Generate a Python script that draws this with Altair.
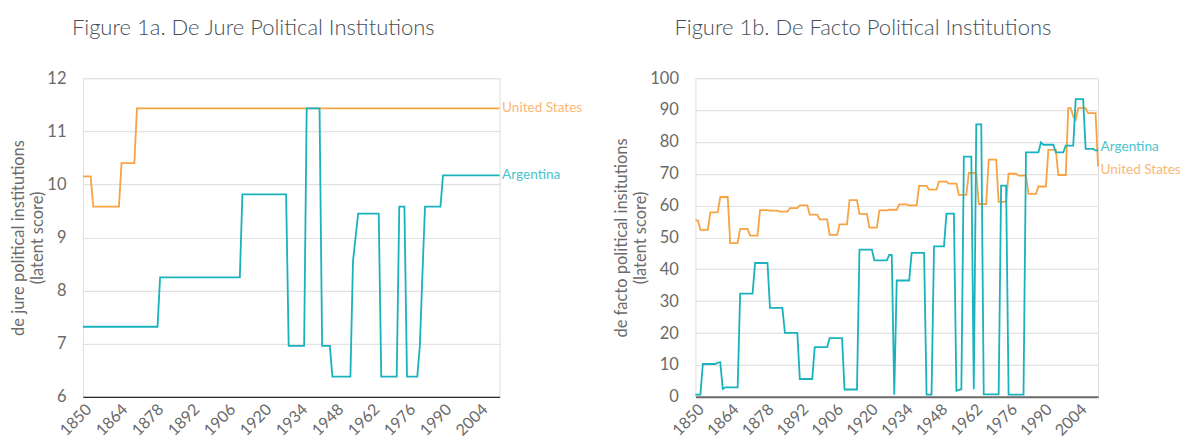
import altair as alt
import pandas as pd

years = list(range(1850, 2013))

# Figure 1a: de jure (latent score), one value per year 1850-2012
us_dejure = [
    10.15, 10.15, 10.15, 10.15, 9.58, 9.58, 9.58, 9.58, 9.58, 9.58,
    9.58, 9.58, 9.58, 9.58, 9.58, 10.4, 10.4, 10.4, 10.4, 10.4,
    10.4, 11.43, 11.43, 11.43, 11.43, 11.43, 11.43, 11.43, 11.43, 11.43,
    11.43, 11.43, 11.43, 11.43, 11.43, 11.43, 11.43, 11.43, 11.43, 11.43,
    11.43, 11.43, 11.43, 11.43, 11.43, 11.43, 11.43, 11.43, 11.43, 11.43,
    11.43, 11.43, 11.43, 11.43, 11.43, 11.43, 11.43, 11.43, 11.43, 11.43,
    11.43, 11.43, 11.43, 11.43, 11.43, 11.43, 11.43, 11.43, 11.43, 11.43,
    11.43, 11.43, 11.43, 11.43, 11.43, 11.43, 11.43, 11.43, 11.43, 11.43,
    11.43, 11.43, 11.43, 11.43, 11.43, 11.43, 11.43, 11.43, 11.43, 11.43,
    11.43, 11.43, 11.43, 11.43, 11.43, 11.43, 11.43, 11.43, 11.43, 11.43,
    11.43, 11.43, 11.43, 11.43, 11.43, 11.43, 11.43, 11.43, 11.43, 11.43,
    11.43, 11.43, 11.43, 11.43, 11.43, 11.43, 11.43, 11.43, 11.43, 11.43,
    11.43, 11.43, 11.43, 11.43, 11.43, 11.43, 11.43, 11.43, 11.43, 11.43,
    11.43, 11.43, 11.43, 11.43, 11.43, 11.43, 11.43, 11.43, 11.43, 11.43,
    11.43, 11.43, 11.43, 11.43, 11.43, 11.43, 11.43, 11.43, 11.43, 11.43,
    11.43, 11.43, 11.43, 11.43, 11.43, 11.43, 11.43, 11.43, 11.43, 11.43,
    11.43, 11.43, 11.43,
]
arg_dejure = [
    7.32, 7.32, 7.32, 7.32, 7.32, 7.32, 7.32, 7.32, 7.32, 7.32,
    7.32, 7.32, 7.32, 7.32, 7.32, 7.32, 7.32, 7.32, 7.32, 7.32,
    7.32, 7.32, 7.32, 7.32, 7.32, 7.32, 7.32, 7.32, 7.32, 7.32,
    8.25, 8.25, 8.25, 8.25, 8.25, 8.25, 8.25, 8.25, 8.25, 8.25,
    8.25, 8.25, 8.25, 8.25, 8.25, 8.25, 8.25, 8.25, 8.25, 8.25,
    8.25, 8.25, 8.25, 8.25, 8.25, 8.25, 8.25, 8.25, 8.25, 8.25,
    8.25, 8.25, 9.81, 9.81, 9.81, 9.81, 9.81, 9.81, 9.81, 9.81,
    9.81, 9.81, 9.81, 9.81, 9.81, 9.81, 9.81, 9.81, 9.81, 9.81,
    6.96, 6.96, 6.96, 6.96, 6.96, 6.96, 6.96, 11.43, 11.43, 11.43,
    11.43, 11.43, 11.43, 6.96, 6.96, 6.96, 6.96, 6.38, 6.38, 6.38,
    6.38, 6.38, 6.38, 6.38, 6.38, 8.55, 9.0, 9.45, 9.45, 9.45,
    9.45, 9.45, 9.45, 9.45, 9.45, 9.45, 6.38, 6.38, 6.38, 6.38,
    6.38, 6.38, 6.38, 9.58, 9.58, 9.58, 6.38, 6.38, 6.38, 6.38,
    6.38, 6.96, 8.3, 9.58, 9.58, 9.58, 9.58, 9.58, 9.58, 9.58,
    10.17, 10.17, 10.17, 10.17, 10.17, 10.17, 10.17, 10.17, 10.17, 10.17,
    10.17, 10.17, 10.17, 10.17, 10.17, 10.17, 10.17, 10.17, 10.17, 10.17,
    10.17, 10.17, 10.17,
]

# Figure 1b: de facto (latent score), one value per year 1850-2012
us_defacto = [
    55.4, 55.4, 52.4, 52.4, 52.4, 52.4, 57.9, 57.9, 57.9, 57.9,
    62.7, 62.7, 62.7, 62.7, 48.2, 48.2, 48.2, 48.2, 52.7, 52.7,
    52.7, 52.7, 50.6, 50.6, 50.6, 50.6, 58.6, 58.6, 58.6, 58.6,
    58.4, 58.4, 58.4, 58.4, 58.1, 58.1, 58.1, 58.1, 59.2, 59.2,
    59.2, 59.2, 60.1, 60.1, 60.1, 60.1, 57.2, 57.2, 57.2, 57.2,
    55.7, 55.7, 55.7, 55.7, 50.8, 50.8, 50.8, 50.8, 54.1, 54.1,
    54.1, 54.1, 61.7, 61.7, 61.7, 61.7, 57.4, 57.4, 57.4, 57.4,
    53.1, 53.1, 53.1, 53.1, 58.5, 58.5, 58.5, 58.5, 58.7, 58.7,
    58.7, 58.7, 60.4, 60.4, 60.4, 60.4, 60.1, 60.1, 60.1, 60.1,
    66.2, 66.2, 66.2, 66.2, 65.0, 65.0, 65.0, 65.0, 67.5, 67.5,
    67.5, 67.5, 66.9, 66.9, 66.9, 66.9, 63.4, 63.4, 63.4, 63.4,
    70.3, 70.3, 70.3, 70.3, 60.5, 60.5, 60.5, 60.5, 74.4, 74.4,
    74.4, 74.4, 61.2, 61.2, 61.2, 61.2, 70.0, 70.0, 70.0, 70.0,
    69.4, 69.4, 69.4, 69.4, 63.7, 63.7, 63.7, 63.7, 66.0, 66.0,
    66.0, 66.0, 77.5, 77.5, 77.5, 77.5, 69.6, 69.6, 69.6, 69.6,
    90.6, 90.6, 88.0, 86.9, 90.6, 90.6, 90.6, 90.6, 89.0, 89.0,
    89.0, 89.0, 72.3,
]
arg_defacto = [
    0.7, 0.7, 0.7, 10.3, 10.3, 10.3, 10.3, 10.3, 10.3, 10.7,
    10.9, 2.5, 3.0, 3.0, 3.0, 3.0, 3.0, 3.0, 32.4, 32.4,
    32.4, 32.4, 32.4, 32.4, 42.0, 42.0, 42.0, 42.0, 42.0, 42.0,
    27.9, 27.9, 27.9, 27.9, 27.9, 27.9, 20.1, 20.1, 20.1, 20.1,
    20.1, 20.1, 5.6, 5.6, 5.6, 5.6, 5.6, 5.6, 15.6, 15.6,
    15.6, 15.6, 15.6, 15.6, 18.4, 18.4, 18.4, 18.4, 18.4, 18.4,
    2.3, 2.3, 2.3, 2.3, 2.3, 2.3, 46.2, 46.2, 46.2, 46.2,
    46.2, 46.2, 42.8, 42.8, 42.8, 42.8, 42.8, 42.8, 44.5, 44.5,
    0.7, 36.5, 36.5, 36.5, 36.5, 36.5, 36.5, 45.2, 45.2, 45.2,
    45.2, 45.2, 45.2, 0.7, 0.7, 0.7, 47.2, 47.2, 47.2, 47.2,
    47.2, 57.5, 57.5, 57.5, 57.5, 1.9, 2.2, 2.4, 75.4, 75.4,
    75.4, 75.4, 2.4, 85.5, 85.5, 85.5, 0.8, 0.8, 0.8, 0.8,
    0.8, 0.8, 0.8, 66.3, 66.3, 66.3, 0.7, 0.7, 0.7, 0.7,
    0.7, 0.7, 0.7, 76.7, 76.7, 76.7, 76.7, 76.7, 76.7, 79.8,
    79.1, 79.1, 79.1, 79.1, 79.1, 76.7, 76.7, 76.7, 76.7, 78.8,
    78.8, 78.8, 78.8, 93.4, 93.4, 93.4, 93.4, 77.8, 77.8, 77.8,
    77.8, 77.3, 77.3,
]

x_ticks = [1850, 1864, 1878, 1892, 1906, 1920, 1934, 1948, 1962, 1976, 1990, 2004]
countries = ["United States", "Argentina"]

ORANGE = "#F7A344"
TEAL = "#19B2BD"
ORANGE_TXT = "#FBB776"
TEAL_TXT = "#4CC4CC"
FONT = "Lato"


def panel(us, arg, title, title_dx, ytitle, ydomain, yticks, width,
          dom_color, dom_width, us_dy, arg_dy):
    df_us = pd.DataFrame({"year": years, "value": us})
    df_arg = pd.DataFrame({"year": years, "value": arg})
    df_lab = pd.DataFrame({
        "year": [years[-1], years[-1]],
        "value": [us[-1], arg[-1]],
        "country": countries,
    })
    x = alt.X("year:Q",
              scale=alt.Scale(domain=[1850, 2012], nice=False, zero=False),
              axis=alt.Axis(values=x_ticks, format="d", labelAngle=-45,
                            labelOverlap=False, labelBound=False,
                            grid=False, ticks=False, title=None,
                            domainColor=dom_color, domainWidth=dom_width,
                            labelFont=FONT, labelFontSize=16,
                            labelColor="#6a6a6a", labelPadding=4))
    y = alt.Y("value:Q",
              scale=alt.Scale(domain=ydomain, nice=False, zero=False),
              axis=alt.Axis(values=yticks, grid=True, gridColor="#e2e2e2",
                            gridWidth=1.2, domain=False, ticks=False,
                            labelFont=FONT, labelFontSize=16.5,
                            labelColor="#6a6a6a", labelPadding=17,
                            title=ytitle, titleFont=FONT, titleFontSize=16.5,
                            titleFontWeight="normal", titleColor="#6a6a6a",
                            titlePadding=1, titleLineHeight=19))
    us_line = alt.Chart(df_us).mark_line(color=ORANGE, strokeWidth=1.8).encode(x=x, y=y)
    arg_line = alt.Chart(df_arg).mark_line(color=TEAL, strokeWidth=1.8).encode(x=x, y=y)
    us_lab = alt.Chart(df_lab).transform_filter(
        alt.datum.country == "United States"
    ).mark_text(align="left", baseline="middle", dx=2.5, dy=us_dy, font=FONT,
                fontSize=13.6, color=ORANGE_TXT).encode(x=x, y=y, text="country:N")
    arg_lab = alt.Chart(df_lab).transform_filter(
        alt.datum.country == "Argentina"
    ).mark_text(align="left", baseline="middle", dx=2.5, dy=arg_dy, font=FONT,
                fontSize=13.6, color=TEAL_TXT).encode(x=x, y=y, text="country:N")
    return alt.layer(us_line, arg_line, us_lab, arg_lab).properties(
        width=width, height=319,
        title=alt.TitleParams(title, anchor="start", frame="group", dx=title_dx,
                              font=FONT, fontSize=22, fontWeight=300,
                              color="#454f58", offset=30),
    )


left = panel(us_dejure, arg_dejure, "Figure 1a. De Jure Political Institutions", -11,
             ["de jure political institutions", "(latent score)"],
             [6, 12], [6, 7, 8, 9, 10, 11, 12], 417, "#2a2a2a", 1.2, 0, 0)
right = panel(us_defacto, arg_defacto, "Figure 1b. De Facto Political Institutions", -21,
              ["de facto political insitutions", "(latent score)"],
              [0, 100], list(range(0, 101, 10)), 403, "#6b6b6b", 2, 4, -3.5)

chart = alt.hconcat(left, right, spacing=196, bounds="flush").configure_view(
    stroke=None
).properties(
    padding={"left": 2, "top": 8, "right": 0, "bottom": 0}
).configure(background="white")

chart.save("out.html", embed_options={"renderer": "svg", "actions": False})
